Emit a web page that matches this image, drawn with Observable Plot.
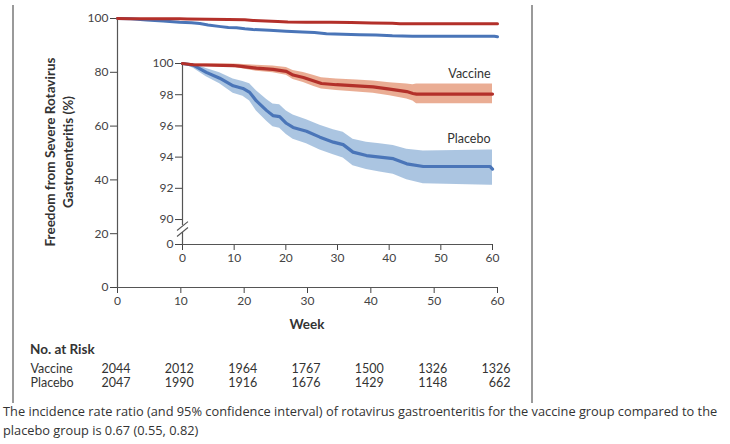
<!DOCTYPE html>
<html><head><meta charset="utf-8">
<script src="https://cdn.jsdelivr.net/npm/d3@7"></script>
<script src="https://cdn.jsdelivr.net/npm/@observablehq/plot@0.6"></script>
<style>
body{margin:0;background:#fff;}
#wrap{position:relative;width:730px;height:444px;overflow:hidden;font-family:Lato,"Open Sans",sans-serif;color:#333;}
#wrap svg{position:absolute;left:0;background:transparent;}
.abs{position:absolute;white-space:nowrap;}
</style></head><body><div id="wrap"></div>
<script>
// ---------- data ----------
const vaccineWeeks = [0, 2, 9.8, 11, 14.3, 17.5, 20.1, 21.4, 23.4, 25.3, 26.9, 29.8, 33.7, 36.9, 40.1, 43.4, 44.6, 45.3, 60];
const vaccineFree  = [100, 99.92, 99.87, 99.83, 99.7, 99.62, 99.5, 99.26, 99.1, 98.9, 98.72, 98.64, 98.57, 98.5, 98.36, 98.2, 98.08, 98.04, 98.04];
const vaccineUpper = [100, 99.98, 99.97, 99.95, 99.88, 99.84, 99.75, 99.55, 99.42, 99.25, 99.08, 99.0, 98.95, 98.88, 98.77, 98.68, 98.64, 98.68, 98.68];
const vaccineLower = [100, 99.85, 99.75, 99.7, 99.5, 99.4, 99.25, 98.97, 98.78, 98.55, 98.36, 98.27, 98.18, 98.1, 97.93, 97.72, 97.6, 97.42, 97.42];

const placeboWeeks = [0, 2.1, 4.6, 7.2, 9.8, 11.7, 13, 14.3, 16.3, 17.5, 18.8, 20.1, 21.4, 24, 26.6, 29.2, 31.1, 33, 35.6, 38.2, 40.8, 43.4, 46.6, 59.5, 60];
const placeboFree  = [100, 99.9, 99.43, 99.06, 98.57, 98.4, 98.15, 97.6, 96.98, 96.66, 96.6, 96.17, 95.9, 95.66, 95.28, 94.96, 94.8, 94.32, 94.1, 94.0, 93.9, 93.57, 93.4, 93.4, 93.23];
const placeboUpper = [100, 100, 99.68, 99.4, 99.0, 98.85, 98.7, 98.25, 97.7, 97.4, 97.35, 96.95, 96.7, 96.4, 96.05, 95.75, 95.6, 95.15, 94.95, 94.85, 94.75, 94.5, 94.4, 94.45, 94.45];
const placeboLower = [100, 99.7, 99.15, 98.7, 98.1, 97.9, 97.6, 96.95, 96.3, 95.95, 95.85, 95.45, 95.15, 94.85, 94.45, 94.15, 93.95, 93.45, 93.2, 93.05, 92.9, 92.55, 92.3, 92.2, 92.2];

const weekTicks = [0, 10, 20, 30, 40, 50, 60];
const mainYTicks = [0, 20, 40, 60, 80, 100];
// inset axis is broken: the bottom position (88.4 on the zoomed scale) stands for 0
const insetBreakBase = 88.4;
const insetYTicks = [insetBreakBase, 90, 92, 94, 96, 98, 100];

const seriesNames = ["Vaccine", "Placebo"];
const seriesLabelY = [99.3, 95.13];

const riskWeeks = [0, 10, 20, 30, 40, 50, 60];
const riskVaccine = [2044, 2012, 1964, 1767, 1500, 1326, 1326];
const riskPlacebo = [2047, 1990, 1916, 1676, 1429, 1148, 662];

// axis-break slashes (inset), in data units
const breakSlashes = [
  {x1: -1.06, y1: 89.3, x2: 1.06, y2: 89.87},
  {x1: -1.06, y1: 88.91, x2: 1.06, y2: 89.49}
];
const insetAxisSegments = [
  {y1: insetBreakBase, y2: 89.17},
  {y1: 89.62, y2: 100}
];

// ---------- styles ----------
const RED = "#b3302a", RED_BAND = "#e9a98e";
const BLUE = "#4a75b8", BLUE_BAND = "#a6c2df";
const AXIS = "#555";

const rows = (w, f, u, l) => w.map((d, i) => ({week: d, v: f[i], hi: u[i], lo: l[i]}));
const vacc = rows(vaccineWeeks, vaccineFree, vaccineUpper, vaccineLower);
const plac = rows(placeboWeeks, placeboFree, placeboUpper, placeboLower);

const wrap = document.getElementById("wrap");
const baseStyle = {fontFamily: "Lato, sans-serif", fontSize: "12px", color: "#444", background: "transparent", overflow: "visible"};

// ---------- main plot ----------
const main = Plot.plot({
  width: 540, height: 320,
  marginLeft: 117, marginRight: 43, marginTop: 18, marginBottom: 33,
  style: baseStyle,
  x: {domain: [0, 60], ticks: weekTicks, tickSize: 6, tickPadding: 3, label: null},
  y: {domain: [0, 100], ticks: mainYTicks, tickSize: 7, tickPadding: 2, label: null},
  marks: [
    Plot.ruleX([0], {y1: 0, y2: 100, stroke: AXIS, strokeWidth: 1.2}),
    Plot.ruleY([0], {x1: 0, x2: 60, stroke: AXIS, strokeWidth: 1.2}),
    Plot.line(plac, {x: "week", y: "v", stroke: BLUE, strokeWidth: 3}),
    Plot.line(vacc, {x: "week", y: "v", stroke: RED, strokeWidth: 3})
  ]
});
main.style.top = "0px";
wrap.appendChild(main);

// ---------- inset ----------
const inset = Plot.plot({
  width: 540, height: 280,
  marginLeft: 182, marginRight: 48, marginTop: 63, marginBottom: 36,
  style: baseStyle,
  x: {domain: [0, 60], ticks: weekTicks, tickSize: 6, tickPadding: 3, label: null},
  y: {domain: [insetBreakBase, 100], ticks: insetYTicks, tickFormat: d => d < 89 ? "0" : String(d), tickSize: 7, tickPadding: 2, label: null},
  marks: [
    Plot.areaY(plac, {x: "week", y1: "lo", y2: "hi", fill: BLUE_BAND, fillOpacity: 0.95}),
    Plot.areaY(vacc, {x: "week", y1: "lo", y2: "hi", fill: RED_BAND, fillOpacity: 0.95}),
    Plot.ruleX(insetAxisSegments, {x: () => 0, y1: "y1", y2: "y2", stroke: AXIS, strokeWidth: 1.2}),
    Plot.link(breakSlashes, {x1: "x1", y1: "y1", x2: "x2", y2: "y2", stroke: AXIS, strokeWidth: 1.1}),
    Plot.ruleY([insetBreakBase], {x1: 0, x2: 60, stroke: AXIS, strokeWidth: 1.2}),
    Plot.line(plac, {x: "week", y: "v", stroke: BLUE, strokeWidth: 3.2}),
    Plot.line(vacc, {x: "week", y: "v", stroke: RED, strokeWidth: 3.2}),
    Plot.text(seriesNames, {x: () => 60, y: (d, i) => seriesLabelY[i], text: d => d, textAnchor: "end", dx: -2, fill: "#333", fontSize: 12.5})
  ]
});
inset.style.top = "0px";
wrap.appendChild(inset);

// ---------- risk table ----------
const riskData = [];
riskWeeks.forEach((w, i) => {
  riskData.push({week: w, group: "Vaccine", n: riskVaccine[i]});
  riskData.push({week: w, group: "Placebo", n: riskPlacebo[i]});
});
const risk = Plot.plot({
  width: 540, height: 60,
  marginLeft: 117, marginRight: 43, marginTop: 0, marginBottom: 0,
  style: {...baseStyle, fontSize: "12.5px"},
  x: {domain: [0, 60], axis: null},
  y: {type: "point", domain: seriesNames, range: [28, 42], padding: 0, axis: null},
  marks: [
    Plot.text(riskData, {x: "week", y: "group", text: d => String(d.n), textAnchor: "end", dx: 13, fill: "#333", fontSize: 12.5}),
    Plot.text(seriesNames, {y: d => d, text: d => d, frameAnchor: "left", dx: -87, textAnchor: "start", fill: "#333", fontSize: 12.5})
  ]
});
risk.style.top = "340px";
wrap.appendChild(risk);

// ---------- html text ----------
function addDiv(html, css) {
  const d = document.createElement("div");
  d.className = "abs";
  d.innerHTML = html;
  Object.assign(d.style, css);
  wrap.appendChild(d);
  return d;
}
addDiv("", {left: "12px", top: "5px", width: "2px", height: "398px", background: "#9a9a9a"});
addDiv("", {left: "531px", top: "5px", width: "2px", height: "398px", background: "#9a9a9a"});
addDiv("Freedom from Severe Rotavirus<br>Gastroenteritis (%)", {
  left: "-51px", top: "134px", width: "220px", height: "36px", lineHeight: "18px",
  textAlign: "center", fontWeight: "bold", fontSize: "13.5px", color: "#333",
  transform: "rotate(-90deg)", transformOrigin: "center"
});
addDiv("Week", {left: "257px", top: "316px", width: "100px", textAlign: "center", fontWeight: "bold", fontSize: "13.5px", color: "#333"});
addDiv("No. at Risk", {left: "30px", top: "341px", fontWeight: "bold", fontSize: "13.5px", color: "#333"});
addDiv("The incidence rate ratio (and 95% confidence interval) of rotavirus gastroenteritis for the vaccine group compared to the<br>placebo group is 0.67 (0.55, 0.82)", {
  left: "3px", top: "402px", fontFamily: "'Open Sans', sans-serif", fontSize: "12.8px", lineHeight: "19px", color: "#333"
});
</script>
</body></html>
